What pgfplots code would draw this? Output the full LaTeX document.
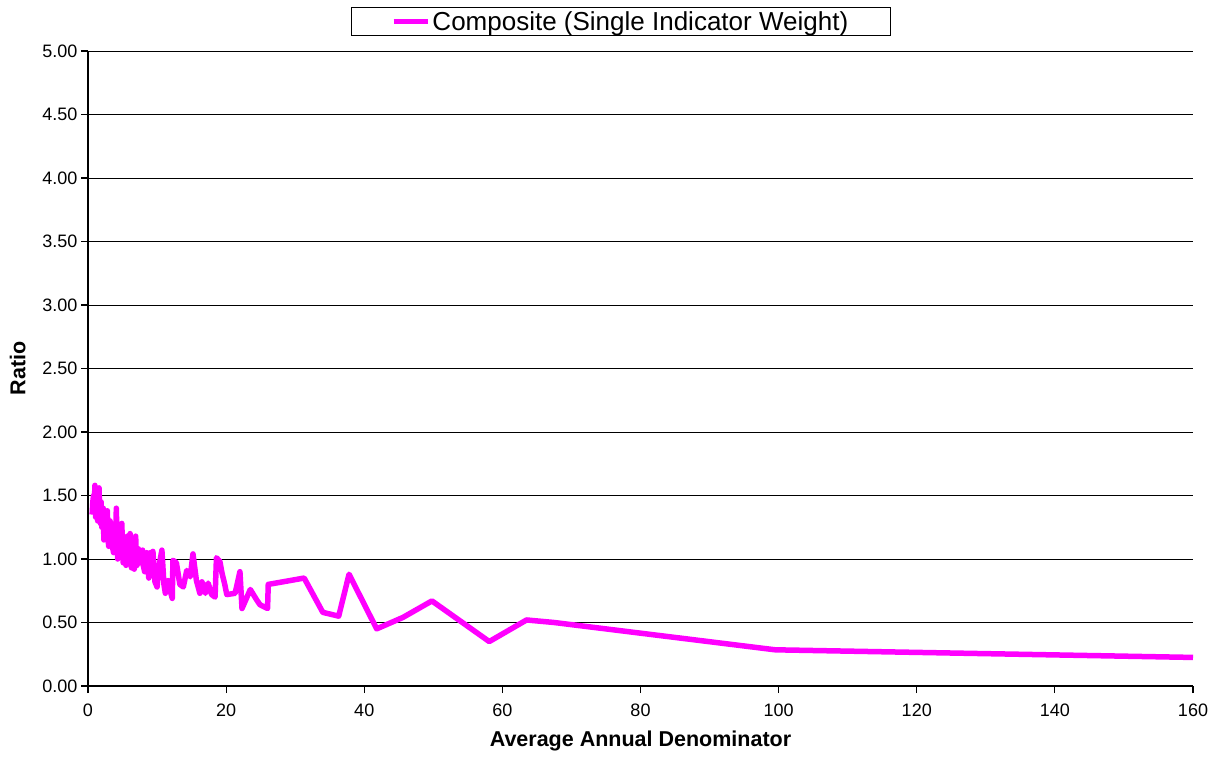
\documentclass[border=0pt]{standalone}
\usepackage{pgfplots}
\pgfplotsset{compat=1.18}
\usepackage{fontspec}
\setmainfont{Liberation Sans}
\begin{document}
\begin{tikzpicture}
\begin{axis}[
  scale only axis,
  width=1105pt, height=635pt,
  xmin=0, xmax=160, ymin=0, ymax=5,
  xtick={0,20,...,160},
  ytick={0,0.5,...,5},
  axis lines=left,
  axis line style={-, line width=1.3pt},
  tick style={black, line width=1.2pt},
  tick align=outside,
  major tick length=7pt,
  ymajorgrids,
  major grid style={black, line width=0.9pt},
  /pgf/number format/assume math mode=true,
  yticklabel style={/pgf/number format/.cd, fixed, fixed zerofill, precision=2},
  xticklabel style={yshift=-7pt},
  ticklabel style={font=\fontsize{18}{21}\selectfont},
  xlabel={\textbf{Average Annual Denominator}},
  ylabel={\textbf{Ratio}},
  label style={font=\fontsize{21.5}{25}\selectfont},
  xlabel style={yshift=-8pt},
  ylabel style={yshift=10pt},
  legend style={at={(0.482,1.0465)}, anchor=center, draw=black, line width=0.8pt,
    font=\fontsize{26}{30}\selectfont, inner xsep=40pt, inner ysep=2pt},
  legend image code/.code={\draw[#1] (0pt,0pt) -- (34pt,0pt);},
]
\addplot[color={rgb,255:red,255;green,0;blue,255}, line width=5.5pt, line join=round] coordinates {
(0.6,1.35) (0.7,1.45) (0.8,1.50) (0.9,1.38) (1.0,1.58) (1.1,1.33) (1.2,1.42)
(1.3,1.48) (1.4,1.30) (1.5,1.44) (1.6,1.56) (1.7,1.35) (1.8,1.28) (1.9,1.45)
(2.0,1.25) (2.1,1.36) (2.2,1.40) (2.3,1.15) (2.4,1.26) (2.5,1.32) (2.6,1.18)
(2.7,1.24) (2.8,1.38) (2.9,1.16) (3.0,1.10) (3.1,1.22) (3.2,1.30) (3.3,1.12)
(3.4,1.20) (3.5,1.25) (3.6,1.08) (3.7,1.05) (3.8,1.18) (3.9,1.28) (4.0,1.10)
(4.1,1.40) (4.2,1.15) (4.3,1.00) (4.4,1.12) (4.5,1.22) (4.6,1.10) (4.7,1.05)
(4.8,1.17) (4.9,1.28) (5.0,1.06) (5.1,0.97) (5.2,1.08) (5.3,1.15) (5.4,1.02)
(5.5,0.95) (5.6,1.10) (5.7,1.18) (5.8,1.04) (5.9,1.00) (6.0,1.12) (6.1,1.20)
(6.2,1.02) (6.3,0.93) (6.4,1.05) (6.5,1.15) (6.6,0.98) (6.7,0.92) (6.8,1.06)
(6.9,1.18) (7.0,1.02) (7.1,0.95) (7.3,1.08) (7.5,1.02) (7.6,0.97) (7.9,1.07)
(8.0,0.95) (8.2,0.90) (8.4,1.00) (8.5,1.05) (8.7,0.92) (8.8,0.85) (9.0,1.05)
(9.2,0.95) (9.4,1.06) (9.7,0.82) (10.0,0.78) (10.3,0.95) (10.7,1.07)
(11.0,0.80) (11.2,0.73) (11.6,0.83) (11.9,0.75) (12.2,0.69) (12.3,0.99)
(12.8,0.97) (13.3,0.80) (13.8,0.78) (14.3,0.91) (14.8,0.86) (15.2,1.04)
(15.7,0.83) (16.2,0.73) (16.5,0.82) (17.0,0.73) (17.4,0.81) (17.9,0.72)
(18.4,0.70) (18.6,1.01) (19.1,0.98) (19.4,0.89) (19.8,0.80) (20.1,0.72)
(21.3,0.73) (22.0,0.90) (22.3,0.61) (23.5,0.76) (24.4,0.68) (24.9,0.64)
(26.0,0.61) (26.1,0.80) (31.3,0.85) (34.0,0.58) (36.3,0.55) (37.8,0.88)
(41.8,0.45) (45.6,0.54) (49.8,0.67) (58.1,0.35) (63.5,0.52) (67.5,0.50)
(99.5,0.285) (160,0.225)
};
\addlegendentry{Composite (Single Indicator Weight)}
\coordinate (bl) at (rel axis cs:0,0);
\coordinate (tr) at (rel axis cs:1,1);
\end{axis}
% outer margins around the plot area
\path (bl) ++(-88pt,-73pt);
\path (tr) ++(28pt,51pt);
\end{tikzpicture}
\end{document}
